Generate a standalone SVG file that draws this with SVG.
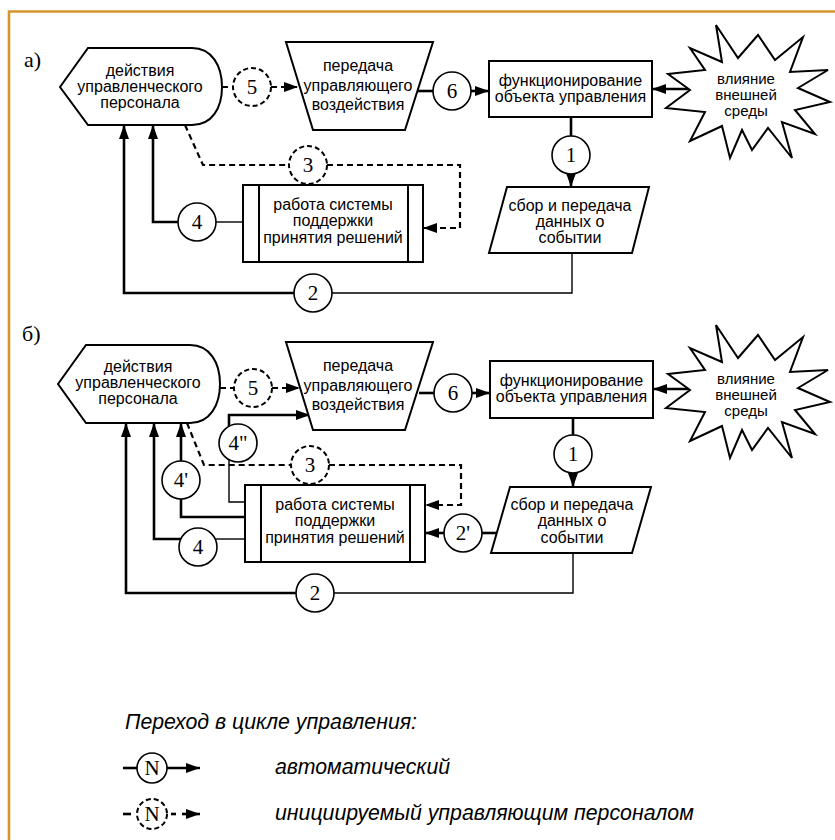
<svg xmlns="http://www.w3.org/2000/svg" width="835" height="840" viewBox="0 0 835 840">
<defs>
<marker id="ah" markerUnits="userSpaceOnUse" markerWidth="14" markerHeight="10" refX="14" refY="5" orient="auto">
<path d="M0,0 L14,5 L0,10 Z" fill="#000"/>
</marker>
<path id="star" d="M716,25 L738,58 L758,35 L775,60 L803,37 L790,72 L828,70 L798,88 L830,102 L795,110 L815,134 L782,122 L792,158 L768,128 L752,150 L742,130 L730,158 L722,126 L690,141 L705,112 L666,108 L690,90 L668,74 L705,70 L690,48 L722,62 Z"/>
<style>
.thick{fill:none;stroke:#000;stroke-width:2.6}
.thin{fill:none;stroke:#000;stroke-width:1.4}
.dash{fill:none;stroke:#000;stroke-width:2.2;stroke-dasharray:6 4}
.node{fill:#fff;stroke:#000;stroke-width:2}
.circ{fill:#fff;stroke:#000;stroke-width:1.6}
.dcirc{fill:#fff;stroke:#000;stroke-width:2;stroke-dasharray:5 3}
.t{font-family:"Liberation Sans",Arial,sans-serif;font-size:16px;text-anchor:middle;fill:#000}
.ts{font-family:"Liberation Sans",Arial,sans-serif;font-size:15px;text-anchor:middle;fill:#000}
.n{font-family:"Liberation Serif","Times New Roman",serif;font-size:21px;text-anchor:middle;fill:#000}
.lab{font-family:"Liberation Serif","Times New Roman",serif;font-size:22px;fill:#000}
.leg{font-family:"Liberation Sans",Arial,sans-serif;font-size:21.3px;font-style:italic;fill:#000}
</style>
</defs>
<rect width="835" height="840" fill="#fff"/>
<path d="M9,840 V11.5 H835" fill="none" stroke="#D4962C" stroke-width="2.6"/>

<text class="lab" x="24" y="67">а)</text>
<text class="lab" x="22" y="341">б)</text>

<!-- connectors -->
<g id="connectors">
<!-- panel a -->
<path class="dash" d="M222,87 H233"/>
<path class="dash" d="M271,87 H298" marker-end="url(#ah)"/>
<path class="thick" d="M417,91 H433"/>
<path class="thick" d="M471,91 H489" marker-end="url(#ah)"/>
<path class="thick" d="M690,89 H652" marker-end="url(#ah)"/>
<path class="thick" d="M571,117 V136"/>
<path class="thick" d="M571,174 V187" marker-end="url(#ah)"/>
<path class="thin" d="M572,253 V293 H332"/>
<path class="thick" d="M294,293 H124 V125" marker-end="url(#ah)"/>
<path class="thin" d="M243,222 H216"/>
<path class="thick" d="M178,222 H153 V125" marker-end="url(#ah)"/>
<path class="dash" d="M185,125 L203,165 H289"/>
<path class="dash" d="M327,165 H460 V228 H423" marker-end="url(#ah)"/>
<!-- panel b -->
<path class="dash" d="M220,388 H234"/>
<path class="dash" d="M272,388 H300" marker-end="url(#ah)"/>
<path class="thick" d="M419,393 H434"/>
<path class="thick" d="M472,393 H490" marker-end="url(#ah)"/>
<path class="thick" d="M690,389 H653" marker-end="url(#ah)"/>
<path class="thick" d="M573,418 V435"/>
<path class="thick" d="M573,473 V487" marker-end="url(#ah)"/>
<path class="thin" d="M573,553 V593 H334"/>
<path class="thick" d="M296,593 H126 V423" marker-end="url(#ah)"/>
<path class="thick" d="M497,533 H482"/>
<path class="thick" d="M444,533 H425" marker-end="url(#ah)"/>
<path class="thin" d="M245,539 H215"/>
<path class="thick" d="M181,539 H154 V423" marker-end="url(#ah)"/>
<path class="thick" d="M245,517 H181 V499"/>
<path class="thick" d="M181,461 V423" marker-end="url(#ah)"/>
<path class="thin" d="M245,502 H229 V460"/>
<path class="thick" d="M229,426 V415 H310" marker-end="url(#ah)"/>
<path class="dash" d="M187,423 L204,465 H291"/>
<path class="dash" d="M329,465 H461 V505 H425" marker-end="url(#ah)"/>
</g>

<!-- panel a nodes -->
<g id="a-personnel">
<path class="node" d="M60,87 L88,48 L192,48 C212,48 222,66 222,87 C222,108 212,125 192,125 L88,125 Z"/>
<text class="t" x="140" y="76">действия</text>
<text class="t" x="140" y="92">управленческого</text>
<text class="t" x="140" y="108">персонала</text>
</g>
<g id="a-transfer">
<path class="node" d="M286,42 L433,42 L405,130 L313,130 Z"/>
<text class="t" x="358" y="71">передача</text>
<text class="t" x="358" y="91">управляющего</text>
<text class="t" x="358" y="110">воздействия</text>
</g>
<g id="a-object">
<rect class="node" x="489" y="61" width="163" height="56"/>
<text class="t" x="570.5" y="86">функционирование</text>
<text class="t" x="570.5" y="102">объекта управления</text>
</g>
<g id="a-environment">
<use href="#star" class="node"/>
<text class="ts" x="746" y="84">влияние</text>
<text class="ts" x="746" y="100">внешней</text>
<text class="ts" x="746" y="116">среды</text>
</g>
<g id="a-collect">
<path class="node" d="M507,187 L649,187 L632,253 L489,253 Z"/>
<text class="t" x="570" y="211">сбор и передача</text>
<text class="t" x="570" y="227">данных о</text>
<text class="t" x="570" y="243">событии</text>
</g>
<g id="a-dss">
<rect class="node" x="243" y="185" width="180" height="77"/>
<path class="node" d="M259,185 V262 M408,185 V262"/>
<text class="t" x="333" y="210">работа системы</text>
<text class="t" x="333" y="226">поддержки</text>
<text class="t" x="333" y="243">принятия решений</text>
</g>
<g id="a-c5"><circle class="dcirc" cx="252" cy="87" r="19"/><text class="n" x="252" y="94">5</text></g>
<g id="a-c6"><circle class="circ" cx="452" cy="91" r="19"/><text class="n" x="452" y="98">6</text></g>
<g id="a-c1"><circle class="circ" cx="571" cy="155" r="19"/><text class="n" x="571" y="162">1</text></g>
<g id="a-c2"><circle class="circ" cx="313" cy="293" r="19"/><text class="n" x="313" y="300">2</text></g>
<g id="a-c3"><circle class="dcirc" cx="308" cy="165" r="19"/><text class="n" x="308" y="172">3</text></g>
<g id="a-c4"><circle class="circ" cx="197" cy="222" r="19"/><text class="n" x="197" y="229">4</text></g>

<!-- panel b nodes -->
<g id="b-personnel">
<path class="node" d="M58,384 L86,345 L190,345 C210,345 220,363 220,384 C220,405 210,423 190,423 L86,423 Z"/>
<text class="t" x="138" y="372">действия</text>
<text class="t" x="138" y="388">управленческого</text>
<text class="t" x="138" y="404">персонала</text>
</g>
<g id="b-transfer">
<path class="node" d="M286,342 L433,342 L405,430 L313,430 Z"/>
<text class="t" x="358" y="371">передача</text>
<text class="t" x="358" y="391">управляющего</text>
<text class="t" x="358" y="410">воздействия</text>
</g>
<g id="b-object">
<rect class="node" x="490" y="361" width="163" height="57"/>
<text class="t" x="571.5" y="386">функционирование</text>
<text class="t" x="571.5" y="402">объекта управления</text>
</g>
<g id="b-environment">
<use href="#star" class="node" transform="translate(0,300)"/>
<text class="ts" x="746" y="384">влияние</text>
<text class="ts" x="746" y="400">внешней</text>
<text class="ts" x="746" y="416">среды</text>
</g>
<g id="b-collect">
<path class="node" d="M510,487 L651,487 L632,553 L491,553 Z"/>
<text class="t" x="572" y="510">сбор и передача</text>
<text class="t" x="572" y="526">данных о</text>
<text class="t" x="572" y="543">событии</text>
</g>
<g id="b-dss">
<rect class="node" x="245" y="485" width="180" height="77"/>
<path class="node" d="M261,485 V562 M410,485 V562"/>
<text class="t" x="335" y="510">работа системы</text>
<text class="t" x="335" y="526">поддержки</text>
<text class="t" x="335" y="543">принятия решений</text>
</g>
<g id="b-c5"><circle class="dcirc" cx="253" cy="388" r="19"/><text class="n" x="253" y="395">5</text></g>
<g id="b-c6"><circle class="circ" cx="453" cy="393" r="19"/><text class="n" x="453" y="400">6</text></g>
<g id="b-c1"><circle class="circ" cx="573" cy="454" r="19"/><text class="n" x="573" y="461">1</text></g>
<g id="b-c2"><circle class="circ" cx="315" cy="593" r="19"/><text class="n" x="315" y="600">2</text></g>
<g id="b-c2p"><circle class="circ" cx="463" cy="533" r="19"/><text class="n" x="463" y="540">2'</text></g>
<g id="b-c3"><circle class="dcirc" cx="310" cy="465" r="19"/><text class="n" x="310" y="472">3</text></g>
<g id="b-c4"><circle class="circ" cx="198" cy="547" r="19"/><text class="n" x="198" y="554">4</text></g>
<g id="b-c4p"><circle class="circ" cx="181" cy="480" r="19"/><text class="n" x="181" y="487">4'</text></g>
<g id="b-c4pp"><circle class="circ" cx="238" cy="443" r="19"/><text class="n" x="238" y="450">4"</text></g>

<!-- legend -->
<g id="legend">
<text class="leg" x="125" y="729">Переход в цикле управления:</text>
<path class="thick" d="M123,768 H137"/>
<circle class="circ" cx="152" cy="768" r="15"/>
<text class="n" x="152" y="775">N</text>
<path class="thick" d="M167,768 H200" marker-end="url(#ah)"/>
<text class="leg" x="275" y="774">автоматический</text>
<path class="thick" d="M123,814 H131"/>
<circle class="dcirc" cx="152" cy="814" r="15"/>
<text class="n" x="152" y="821">N</text>
<path class="thick" d="M171,814 H176"/>
<path class="thick" d="M182,814 H200" marker-end="url(#ah)"/>
<text class="leg" x="275" y="820">инициируемый управляющим персоналом</text>
</g>
</svg>
